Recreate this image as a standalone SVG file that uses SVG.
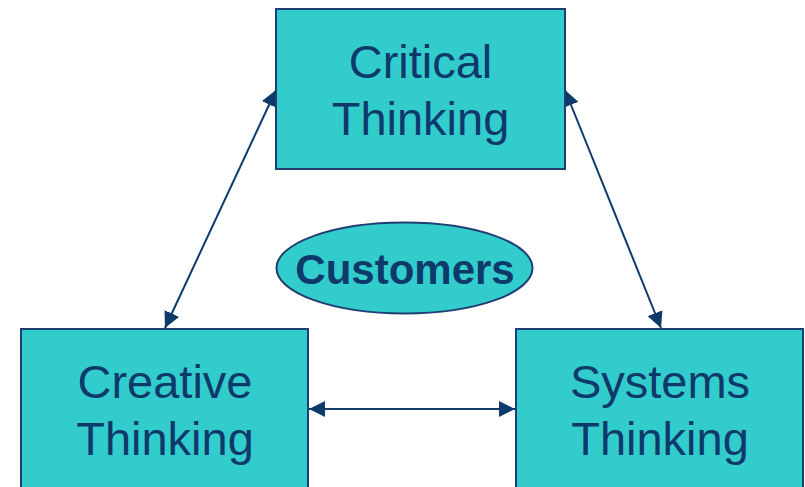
<svg xmlns="http://www.w3.org/2000/svg" width="805" height="487" viewBox="0 0 805 487">
<style>
.box{fill:#33CCCC;stroke:#1F3F73;stroke-width:2}
.t{font-family:"Liberation Sans",Arial,sans-serif;font-size:47px;fill:#0E3A6B;text-anchor:middle}
.b{font-family:"Liberation Sans",Arial,sans-serif;font-size:42px;font-weight:bold;fill:#0E3A6B;text-anchor:middle}
.c{stroke:#0E3A6B;stroke-width:2;fill:none;marker-start:url(#ah);marker-end:url(#ah)}
</style>
<defs>
<marker id="ah" viewBox="0 0 10 10" refX="10" refY="5" markerWidth="9" markerHeight="9" markerUnits="userSpaceOnUse" orient="auto-start-reverse">
<path d="M0,0 L10,5 L0,10 Z" fill="#0E3A6B"/>
</marker>
<marker id="ah2" viewBox="0 0 10 10" refX="10" refY="5" markerWidth="16" markerHeight="16" markerUnits="userSpaceOnUse" orient="auto-start-reverse">
<path d="M0,0 L10,5 L0,10 Z" fill="#0E3A6B"/>
</marker>
</defs>
<g id="connectors">
<line class="c" x1="276" y1="90" x2="165" y2="328" style="marker-start:url(#ah2);marker-end:url(#ah2)"/>
<line class="c" x1="565" y1="90" x2="661" y2="328" style="marker-start:url(#ah2);marker-end:url(#ah2)"/>
<line class="c" x1="309" y1="409" x2="515" y2="409" style="marker-start:url(#ah2);marker-end:url(#ah2)"/>
</g>
<g id="critical">
<rect class="box" x="276" y="9" width="289" height="160"/>
<text class="t" x="420.5" y="78">Critical</text>
<text class="t" x="420.5" y="135">Thinking</text>
</g>
<g id="customers">
<ellipse class="box" cx="404.5" cy="268" rx="128" ry="45.5"/>
<text class="b" x="405" y="284">Customers</text>
</g>
<g id="creative">
<rect class="box" x="21" y="329" width="287" height="170"/>
<text class="t" x="165" y="398">Creative</text>
<text class="t" x="165" y="455">Thinking</text>
</g>
<g id="systems">
<rect class="box" x="516" y="329" width="287" height="170"/>
<text class="t" x="660" y="398">Systems</text>
<text class="t" x="660" y="455">Thinking</text>
</g>
</svg>
